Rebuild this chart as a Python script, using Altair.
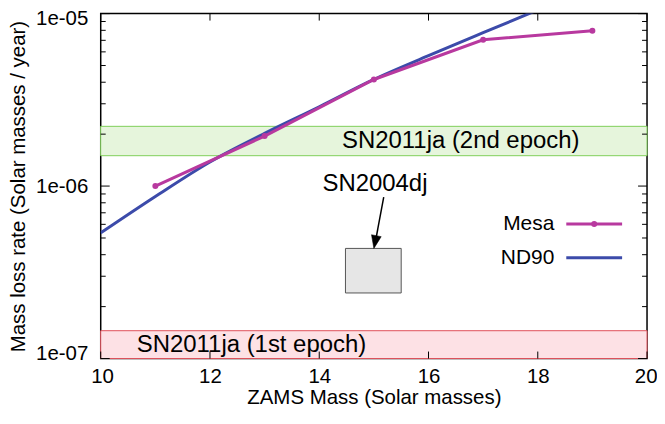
import altair as alt
import pandas as pd

# ---------------- data ----------------
mesa_mass = [11, 13, 15, 17, 19]
mesa_rate = [1.0e-6, 1.95e-6, 4.15e-6, 7.05e-6, 7.95e-6]

nd90_mass = [10, 11, 12, 13, 14, 15, 16, 17, 18]
nd90_rate = [5.35e-7, 8.7e-7, 1.38e-6, 2.02e-6, 2.88e-6, 4.15e-6, 5.7e-6, 7.75e-6, 1.05e-5]

band2_label = "SN2011ja (2nd epoch)"
band2_range = [1.5e-6, 2.22e-6]
band1_label = "SN2011ja (1st epoch)"
band1_range = [1.0e-7, 1.45e-7]

box_label = "SN2004dj"
box_mass = [14.48, 15.5]
box_rate = [2.4e-7, 4.35e-7]

x_ticks = [10, 12, 14, 16, 18, 20]
y_major = [1e-7, 1e-6, 1e-5]
y_minor = [2e-7, 3e-7, 4e-7, 5e-7, 6e-7, 7e-7, 8e-7, 9e-7,
           2e-6, 3e-6, 4e-6, 5e-6, 6e-6, 7e-6, 8e-6, 9e-6]

series_names = ["Mesa", "ND90"]

# ---------------- styling ----------------
W, H = 548, 346
FONT = "Liberation Sans"
AX_FS = 20.5
ANN_FS = 24
LEG_FS = 21
MESA_C = "#b8399f"
ND90_C = "#3c4baa"

xs = alt.Scale(domain=[10, 20], nice=False, zero=False)
ys = alt.Scale(type="log", domain=[1e-7, 1e-5], nice=False)

x_axis = alt.Axis(values=x_ticks, ticks=False, domain=False, grid=False,
                  labelFlush=True, labelFlushOffset=10, labelOverlap=False,
                  labelFontSize=AX_FS, labelFont=FONT, labelPadding=8,
                  title="ZAMS Mass (Solar masses)", titleFontSize=AX_FS,
                  titleFont=FONT, titleFontWeight="normal", titlePadding=1,
                  labelColor="black", titleColor="black")
y_axis = alt.Axis(values=y_major, ticks=False, domain=False, grid=False,
                  labelFlush=True, labelFlushOffset=5, labelOverlap=False,
                  labelExpr="replace(format(datum.value, '.0e'), 'e-', 'e-0')",
                  labelFontSize=AX_FS, labelFont=FONT, labelPadding=13,
                  title="Mass loss rate (Solar masses / year)", titleFontSize=AX_FS,
                  titleFont=FONT, titleFontWeight="normal", titlePadding=7,
                  labelColor="black", titleColor="black")


def X(f):
    return alt.X(f"{f}:Q", scale=xs, axis=x_axis)


def Y(f):
    return alt.Y(f"{f}:Q", scale=ys, axis=y_axis)


mesa_df = pd.DataFrame({"mass": mesa_mass, "rate": mesa_rate})
nd90_df = pd.DataFrame({"mass": nd90_mass, "rate": nd90_rate})

# bands
band2 = alt.Chart(pd.DataFrame({"rate": [band2_range[0]], "rate2": [band2_range[1]]})).mark_rect(
    fill="#e6f5dc", stroke="#7fcf5a", strokeWidth=1).encode(
    x=alt.value(0), x2=alt.value(W), y=Y("rate"), y2="rate2:Q")
band1 = alt.Chart(pd.DataFrame({"rate": [band1_range[0]], "rate2": [band1_range[1]]})).mark_rect(
    fill="#fde1e5", stroke="#e0505a", strokeWidth=1).encode(
    x=alt.value(0), x2=alt.value(W), y=Y("rate"), y2="rate2:Q")

band2_text = alt.Chart(pd.DataFrame({"t": [band2_label], "mass": [16.59], "rate": [1.83e-6]})).mark_text(
    font=FONT, fontSize=ANN_FS, color="black", baseline="middle", align="center").encode(
    x=X("mass"), y=Y("rate"), text="t:N")
band1_text = alt.Chart(pd.DataFrame({"t": [band1_label], "mass": [12.76], "rate": [1.2e-7]})).mark_text(
    font=FONT, fontSize=ANN_FS, color="black", baseline="middle", align="center").encode(
    x=X("mass"), y=Y("rate"), text="t:N")

# SN2004dj box + arrow
box = alt.Chart(pd.DataFrame({"mass": [box_mass[0]], "mass2": [box_mass[1]],
                              "rate": [box_rate[0]], "rate2": [box_rate[1]]})).mark_rect(
    fill="#e6e6e6", stroke="#555555", strokeWidth=1).encode(
    x=X("mass"), x2="mass2:Q", y=Y("rate"), y2="rate2:Q")

arrow_shaft = alt.Chart(pd.DataFrame({"mass": [15.18], "mass2": [15.02],
                                      "rate": [8.64e-7], "rate2": [4.6e-7]})).mark_rule(
    color="black", strokeWidth=1.5).encode(
    x=X("mass"), x2="mass2:Q", y=Y("rate"), y2="rate2:Q")
arrow_head = alt.Chart(pd.DataFrame({"mass": [15.0], "rate": [box_rate[1]]})).mark_point(
    shape="M0,0 L-0.38,-1 L0.38,-1 Z", size=676, angle=11, filled=True,
    fill="black", stroke="black", strokeWidth=0.5, opacity=1).encode(
    x=X("mass"), y=Y("rate"))
box_text = alt.Chart(pd.DataFrame({"t": [box_label], "mass": [15.02], "rate": [1.03e-6]})).mark_text(
    font=FONT, fontSize=ANN_FS, color="black", baseline="middle", align="center").encode(
    x=X("mass"), y=Y("rate"), text="t:N")

# curves
nd90_line = alt.Chart(nd90_df).mark_line(
    color=ND90_C, strokeWidth=3, interpolate="monotone", clip=True).encode(x=X("mass"), y=Y("rate"))
mesa_line = alt.Chart(mesa_df).mark_line(color=MESA_C, strokeWidth=3).encode(
    x=X("mass"), y=Y("rate"))
mesa_pts = alt.Chart(mesa_df).mark_circle(color=MESA_C, size=36, opacity=1).encode(
    x=X("mass"), y=Y("rate"))

# inward ticks
xt = pd.DataFrame({"mass": x_ticks})
x_bot = alt.Chart(xt).mark_rule(color="black", strokeWidth=1).encode(
    x=X("mass"), y=alt.value(H), y2=alt.value(H - 7))
x_top = alt.Chart(xt).mark_rule(color="black", strokeWidth=1).encode(
    x=X("mass"), y=alt.value(0), y2=alt.value(7))
ymj = pd.DataFrame({"rate": y_major})
ymn = pd.DataFrame({"rate": y_minor})
y_l_major = alt.Chart(ymj).mark_rule(color="black", strokeWidth=1).encode(
    y=Y("rate"), x=alt.value(0), x2=alt.value(9))
y_r_major = alt.Chart(ymj).mark_rule(color="black", strokeWidth=1).encode(
    y=Y("rate"), x=alt.value(W), x2=alt.value(W - 9))
y_l_minor = alt.Chart(ymn).mark_rule(color="black", strokeWidth=1).encode(
    y=Y("rate"), x=alt.value(0), x2=alt.value(5))
y_r_minor = alt.Chart(ymn).mark_rule(color="black", strokeWidth=1).encode(
    y=Y("rate"), x=alt.value(W), x2=alt.value(W - 5))

# legend (manual, gnuplot style: label left of sample)
leg_mesa_t = alt.Chart(pd.DataFrame({"t": [series_names[0]]})).mark_text(
    font=FONT, fontSize=LEG_FS, color="black", align="right", baseline="middle").encode(
    x=alt.value(455), y=alt.value(211), text="t:N")
leg_nd90_t = alt.Chart(pd.DataFrame({"t": [series_names[1]]})).mark_text(
    font=FONT, fontSize=LEG_FS, color="black", align="right", baseline="middle").encode(
    x=alt.value(455), y=alt.value(245), text="t:N")
leg_mesa_l = alt.Chart(pd.DataFrame({"t": [series_names[0]]})).mark_rule(
    color=MESA_C, strokeWidth=3).encode(x=alt.value(467), x2=alt.value(523), y=alt.value(211))
leg_mesa_p = alt.Chart(pd.DataFrame({"t": [series_names[0]]})).mark_circle(
    color=MESA_C, size=36, opacity=1).encode(x=alt.value(495), y=alt.value(211))
leg_nd90_l = alt.Chart(pd.DataFrame({"t": [series_names[1]]})).mark_rule(
    color=ND90_C, strokeWidth=3).encode(x=alt.value(467), x2=alt.value(523), y=alt.value(245))

chart = alt.layer(
    band2, band1, band2_text, band1_text, box, arrow_shaft, arrow_head, box_text,
    nd90_line, mesa_line, mesa_pts,
    x_bot, x_top, y_l_major, y_r_major, y_l_minor, y_r_minor,
    leg_mesa_t, leg_nd90_t, leg_mesa_l, leg_mesa_p, leg_nd90_l,
).properties(
    width=W, height=H,
    autosize=alt.AutoSizeParams(type="none"),
    padding={"left": 93, "top": 5, "right": 10, "bottom": 50},
).configure_view(
    stroke="black", strokeWidth=1.5
)

chart.save("out.html", embed_options={"renderer": "svg", "actions": False})
